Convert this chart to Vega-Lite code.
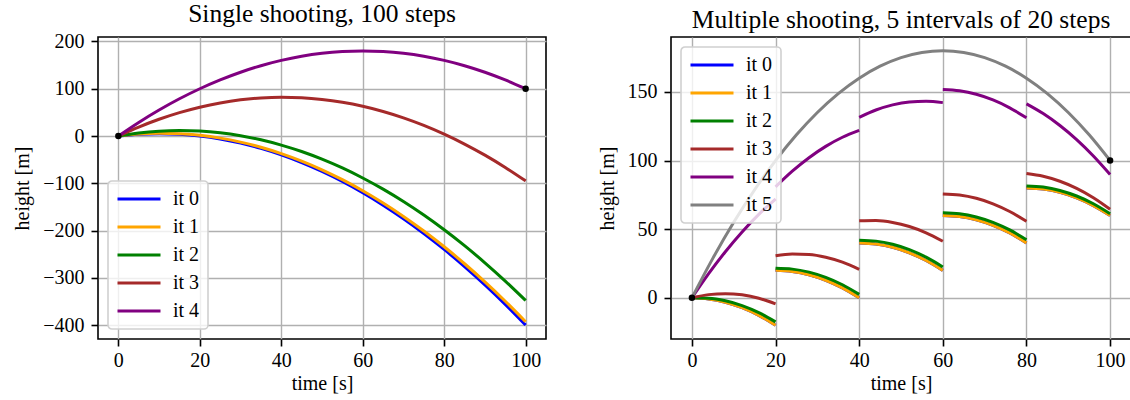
{
  "$schema": "https://vega.github.io/schema/vega-lite/v6.json",
  "padding": {"left": 11, "top": 1, "right": 0, "bottom": 0},
  "spacing": 49,
  "config": {
    "font": "Liberation Serif",
    "view": {"stroke": "black", "strokeWidth": 1.6},
    "axis": {"labelFontSize": 20, "titleFontSize": 20, "labelColor": "black", "titleColor": "black", "titleFontWeight": "normal", "tickSize": 7, "tickWidth": 1.6, "tickColor": "black", "domain": false, "gridColor": "#b0b0b0", "gridWidth": 1.4, "labelFont": "Liberation Serif", "titleFont": "Liberation Serif"},
    "legend": {"labelFontSize": 20, "labelFont": "Liberation Serif", "labelColor": "black", "symbolType": "stroke", "symbolSize": 1849, "symbolStrokeWidth": 3, "labelOffset": 11, "clipHeight": 20, "rowPadding": 8, "padding": 8, "fillColor": "rgba(255,255,255,0.8)", "strokeColor": "#d0d0d0", "strokeWidth": 1.6, "cornerRadius": 4, "offset": 10},
    "title": {"fontSize": 25.5, "fontWeight": "normal", "color": "black", "font": "Liberation Serif", "offset": 4}
  },
  "datasets": {
    "single": [
      {"t":0,"h":0,"it":"it 0"},{"t":5,"h":3.75,"it":"it 0"},{"t":10,"h":5,"it":"it 0"},{"t":15,"h":3.75,"it":"it 0"},{"t":20,"h":0,"it":"it 0"},{"t":25,"h":-6.25,"it":"it 0"},{"t":30,"h":-15,"it":"it 0"},{"t":35,"h":-26.25,"it":"it 0"},{"t":40,"h":-40,"it":"it 0"},{"t":45,"h":-56.25,"it":"it 0"},{"t":50,"h":-75,"it":"it 0"},{"t":55,"h":-96.25,"it":"it 0"},{"t":60,"h":-120,"it":"it 0"},{"t":65,"h":-146.25,"it":"it 0"},{"t":70,"h":-175,"it":"it 0"},{"t":75,"h":-206.25,"it":"it 0"},{"t":80,"h":-240,"it":"it 0"},{"t":85,"h":-276.25,"it":"it 0"},{"t":90,"h":-315,"it":"it 0"},{"t":95,"h":-356.25,"it":"it 0"},{"t":100,"h":-400,"it":"it 0"},
      {"t":0,"h":0,"it":"it 1"},{"t":5,"h":4.1,"it":"it 1"},{"t":10,"h":5.7,"it":"it 1"},{"t":15,"h":4.8,"it":"it 1"},{"t":20,"h":1.4,"it":"it 1"},{"t":25,"h":-4.5,"it":"it 1"},{"t":30,"h":-12.9,"it":"it 1"},{"t":35,"h":-23.8,"it":"it 1"},{"t":40,"h":-37.2,"it":"it 1"},{"t":45,"h":-53.1,"it":"it 1"},{"t":50,"h":-71.5,"it":"it 1"},{"t":55,"h":-92.4,"it":"it 1"},{"t":60,"h":-115.8,"it":"it 1"},{"t":65,"h":-141.7,"it":"it 1"},{"t":70,"h":-170.1,"it":"it 1"},{"t":75,"h":-201,"it":"it 1"},{"t":80,"h":-234.4,"it":"it 1"},{"t":85,"h":-270.3,"it":"it 1"},{"t":90,"h":-308.7,"it":"it 1"},{"t":95,"h":-349.6,"it":"it 1"},{"t":100,"h":-393,"it":"it 1"},
      {"t":0,"h":0,"it":"it 2"},{"t":5,"h":6.35,"it":"it 2"},{"t":10,"h":10.2,"it":"it 2"},{"t":15,"h":11.55,"it":"it 2"},{"t":20,"h":10.4,"it":"it 2"},{"t":25,"h":6.75,"it":"it 2"},{"t":30,"h":0.6,"it":"it 2"},{"t":35,"h":-8.05,"it":"it 2"},{"t":40,"h":-19.2,"it":"it 2"},{"t":45,"h":-32.85,"it":"it 2"},{"t":50,"h":-49,"it":"it 2"},{"t":55,"h":-67.65,"it":"it 2"},{"t":60,"h":-88.8,"it":"it 2"},{"t":65,"h":-112.45,"it":"it 2"},{"t":70,"h":-138.6,"it":"it 2"},{"t":75,"h":-167.25,"it":"it 2"},{"t":80,"h":-198.4,"it":"it 2"},{"t":85,"h":-232.05,"it":"it 2"},{"t":90,"h":-268.2,"it":"it 2"},{"t":95,"h":-306.85,"it":"it 2"},{"t":100,"h":-348,"it":"it 2"},
      {"t":0,"h":0,"it":"it 3"},{"t":5,"h":19,"it":"it 3"},{"t":10,"h":35.5,"it":"it 3"},{"t":15,"h":49.5,"it":"it 3"},{"t":20,"h":61,"it":"it 3"},{"t":25,"h":70,"it":"it 3"},{"t":30,"h":76.5,"it":"it 3"},{"t":35,"h":80.5,"it":"it 3"},{"t":40,"h":82,"it":"it 3"},{"t":45,"h":81,"it":"it 3"},{"t":50,"h":77.5,"it":"it 3"},{"t":55,"h":71.5,"it":"it 3"},{"t":60,"h":63,"it":"it 3"},{"t":65,"h":52,"it":"it 3"},{"t":70,"h":38.5,"it":"it 3"},{"t":75,"h":22.5,"it":"it 3"},{"t":80,"h":4,"it":"it 3"},{"t":85,"h":-17,"it":"it 3"},{"t":90,"h":-40.5,"it":"it 3"},{"t":95,"h":-66.5,"it":"it 3"},{"t":100,"h":-95,"it":"it 3"},
      {"t":0,"h":0,"it":"it 4"},{"t":5,"h":28.75,"it":"it 4"},{"t":10,"h":55,"it":"it 4"},{"t":15,"h":78.75,"it":"it 4"},{"t":20,"h":100,"it":"it 4"},{"t":25,"h":118.75,"it":"it 4"},{"t":30,"h":135,"it":"it 4"},{"t":35,"h":148.75,"it":"it 4"},{"t":40,"h":160,"it":"it 4"},{"t":45,"h":168.75,"it":"it 4"},{"t":50,"h":175,"it":"it 4"},{"t":55,"h":178.75,"it":"it 4"},{"t":60,"h":180,"it":"it 4"},{"t":65,"h":178.75,"it":"it 4"},{"t":70,"h":175,"it":"it 4"},{"t":75,"h":168.75,"it":"it 4"},{"t":80,"h":160,"it":"it 4"},{"t":85,"h":148.75,"it":"it 4"},{"t":90,"h":135,"it":"it 4"},{"t":95,"h":118.75,"it":"it 4"},{"t":100,"h":100,"it":"it 4"}
    ],
    "multi": [
      {"t":0,"h":0,"it":"it 0","s":1},{"t":4,"h":-0.8,"it":"it 0","s":1},{"t":8,"h":-3.2,"it":"it 0","s":1},{"t":12,"h":-7.2,"it":"it 0","s":1},{"t":16,"h":-12.8,"it":"it 0","s":1},{"t":20,"h":-20,"it":"it 0","s":1},
      {"t":20,"h":20,"it":"it 0","s":2},{"t":24,"h":19.2,"it":"it 0","s":2},{"t":28,"h":16.8,"it":"it 0","s":2},{"t":32,"h":12.8,"it":"it 0","s":2},{"t":36,"h":7.2,"it":"it 0","s":2},{"t":40,"h":0,"it":"it 0","s":2},
      {"t":40,"h":40,"it":"it 0","s":3},{"t":44,"h":39.2,"it":"it 0","s":3},{"t":48,"h":36.8,"it":"it 0","s":3},{"t":52,"h":32.8,"it":"it 0","s":3},{"t":56,"h":27.2,"it":"it 0","s":3},{"t":60,"h":20,"it":"it 0","s":3},
      {"t":60,"h":60,"it":"it 0","s":4},{"t":64,"h":59.2,"it":"it 0","s":4},{"t":68,"h":56.8,"it":"it 0","s":4},{"t":72,"h":52.8,"it":"it 0","s":4},{"t":76,"h":47.2,"it":"it 0","s":4},{"t":80,"h":40,"it":"it 0","s":4},
      {"t":80,"h":80,"it":"it 0","s":5},{"t":84,"h":79.2,"it":"it 0","s":5},{"t":88,"h":76.8,"it":"it 0","s":5},{"t":92,"h":72.8,"it":"it 0","s":5},{"t":96,"h":67.2,"it":"it 0","s":5},{"t":100,"h":60,"it":"it 0","s":5},
      {"t":0,"h":0,"it":"it 1","s":1},{"t":4,"h":-0.8,"it":"it 1","s":1},{"t":8,"h":-3.2,"it":"it 1","s":1},{"t":12,"h":-7.2,"it":"it 1","s":1},{"t":16,"h":-12.8,"it":"it 1","s":1},{"t":20,"h":-20,"it":"it 1","s":1},
      {"t":20,"h":20,"it":"it 1","s":2},{"t":24,"h":19.2,"it":"it 1","s":2},{"t":28,"h":16.8,"it":"it 1","s":2},{"t":32,"h":12.8,"it":"it 1","s":2},{"t":36,"h":7.2,"it":"it 1","s":2},{"t":40,"h":0,"it":"it 1","s":2},
      {"t":40,"h":40,"it":"it 1","s":3},{"t":44,"h":39.2,"it":"it 1","s":3},{"t":48,"h":36.8,"it":"it 1","s":3},{"t":52,"h":32.8,"it":"it 1","s":3},{"t":56,"h":27.2,"it":"it 1","s":3},{"t":60,"h":20,"it":"it 1","s":3},
      {"t":60,"h":60,"it":"it 1","s":4},{"t":64,"h":59.2,"it":"it 1","s":4},{"t":68,"h":56.8,"it":"it 1","s":4},{"t":72,"h":52.8,"it":"it 1","s":4},{"t":76,"h":47.2,"it":"it 1","s":4},{"t":80,"h":40,"it":"it 1","s":4},
      {"t":80,"h":80,"it":"it 1","s":5},{"t":84,"h":79.2,"it":"it 1","s":5},{"t":88,"h":76.8,"it":"it 1","s":5},{"t":92,"h":72.8,"it":"it 1","s":5},{"t":96,"h":67.2,"it":"it 1","s":5},{"t":100,"h":60,"it":"it 1","s":5},
      {"t":0,"h":0,"it":"it 2","s":1},{"t":4,"h":-0.3,"it":"it 2","s":1},{"t":8,"h":-2.2,"it":"it 2","s":1},{"t":12,"h":-5.7,"it":"it 2","s":1},{"t":16,"h":-10.8,"it":"it 2","s":1},{"t":20,"h":-17.5,"it":"it 2","s":1},
      {"t":20,"h":21.5,"it":"it 2","s":2},{"t":24,"h":20.9,"it":"it 2","s":2},{"t":28,"h":18.7,"it":"it 2","s":2},{"t":32,"h":14.9,"it":"it 2","s":2},{"t":36,"h":9.5,"it":"it 2","s":2},{"t":40,"h":2.5,"it":"it 2","s":2},
      {"t":40,"h":42,"it":"it 2","s":3},{"t":44,"h":41.3,"it":"it 2","s":3},{"t":48,"h":39,"it":"it 2","s":3},{"t":52,"h":35.1,"it":"it 2","s":3},{"t":56,"h":29.6,"it":"it 2","s":3},{"t":60,"h":22.5,"it":"it 2","s":3},
      {"t":60,"h":62,"it":"it 2","s":4},{"t":64,"h":61.26,"it":"it 2","s":4},{"t":68,"h":58.92,"it":"it 2","s":4},{"t":72,"h":54.98,"it":"it 2","s":4},{"t":76,"h":49.44,"it":"it 2","s":4},{"t":80,"h":42.3,"it":"it 2","s":4},
      {"t":80,"h":81.5,"it":"it 2","s":5},{"t":84,"h":80.66,"it":"it 2","s":5},{"t":88,"h":78.22,"it":"it 2","s":5},{"t":92,"h":74.18,"it":"it 2","s":5},{"t":96,"h":68.54,"it":"it 2","s":5},{"t":100,"h":61.3,"it":"it 2","s":5},
      {"t":0,"h":0,"it":"it 3","s":1},{"t":4,"h":2.32,"it":"it 3","s":1},{"t":8,"h":3.04,"it":"it 3","s":1},{"t":12,"h":2.16,"it":"it 3","s":1},{"t":16,"h":-0.32,"it":"it 3","s":1},{"t":20,"h":-4.4,"it":"it 3","s":1},
      {"t":20,"h":30.6,"it":"it 3","s":2},{"t":24,"h":31.84,"it":"it 3","s":2},{"t":28,"h":31.48,"it":"it 3","s":2},{"t":32,"h":29.52,"it":"it 3","s":2},{"t":36,"h":25.96,"it":"it 3","s":2},{"t":40,"h":20.8,"it":"it 3","s":2},
      {"t":40,"h":56.1,"it":"it 3","s":3},{"t":44,"h":56.32,"it":"it 3","s":3},{"t":48,"h":54.94,"it":"it 3","s":3},{"t":52,"h":51.96,"it":"it 3","s":3},{"t":56,"h":47.38,"it":"it 3","s":3},{"t":60,"h":41.2,"it":"it 3","s":3},
      {"t":60,"h":75.7,"it":"it 3","s":4},{"t":64,"h":74.9,"it":"it 3","s":4},{"t":68,"h":72.5,"it":"it 3","s":4},{"t":72,"h":68.5,"it":"it 3","s":4},{"t":76,"h":62.9,"it":"it 3","s":4},{"t":80,"h":55.7,"it":"it 3","s":4},
      {"t":80,"h":90.5,"it":"it 3","s":5},{"t":84,"h":88.5,"it":"it 3","s":5},{"t":88,"h":84.9,"it":"it 3","s":5},{"t":92,"h":79.7,"it":"it 3","s":5},{"t":96,"h":72.9,"it":"it 3","s":5},{"t":100,"h":64.5,"it":"it 3","s":5},
      {"t":0,"h":0,"it":"it 4","s":1},{"t":4,"h":17.6,"it":"it 4","s":1},{"t":8,"h":33.6,"it":"it 4","s":1},{"t":12,"h":48,"it":"it 4","s":1},{"t":16,"h":60.8,"it":"it 4","s":1},{"t":20,"h":72,"it":"it 4","s":1},
      {"t":20,"h":80.8,"it":"it 4","s":2},{"t":24,"h":92.24,"it":"it 4","s":2},{"t":28,"h":102.08,"it":"it 4","s":2},{"t":32,"h":110.32,"it":"it 4","s":2},{"t":36,"h":116.96,"it":"it 4","s":2},{"t":40,"h":122,"it":"it 4","s":2},
      {"t":40,"h":131.5,"it":"it 4","s":3},{"t":44,"h":136.84,"it":"it 4","s":3},{"t":48,"h":140.58,"it":"it 4","s":3},{"t":52,"h":142.72,"it":"it 4","s":3},{"t":56,"h":143.26,"it":"it 4","s":3},{"t":60,"h":142.2,"it":"it 4","s":3},
      {"t":60,"h":151.7,"it":"it 4","s":4},{"t":64,"h":150.78,"it":"it 4","s":4},{"t":68,"h":148.26,"it":"it 4","s":4},{"t":72,"h":144.14,"it":"it 4","s":4},{"t":76,"h":138.42,"it":"it 4","s":4},{"t":80,"h":131.1,"it":"it 4","s":4},
      {"t":80,"h":141.3,"it":"it 4","s":5},{"t":84,"h":134.2,"it":"it 4","s":5},{"t":88,"h":125.5,"it":"it 4","s":5},{"t":92,"h":115.2,"it":"it 4","s":5},{"t":96,"h":103.3,"it":"it 4","s":5},{"t":100,"h":89.8,"it":"it 4","s":5},
      {"t":0,"h":0,"it":"it 5","s":0},{"t":5,"h":28.75,"it":"it 5","s":0},{"t":10,"h":55,"it":"it 5","s":0},{"t":15,"h":78.75,"it":"it 5","s":0},{"t":20,"h":100,"it":"it 5","s":0},{"t":25,"h":118.75,"it":"it 5","s":0},{"t":30,"h":135,"it":"it 5","s":0},{"t":35,"h":148.75,"it":"it 5","s":0},{"t":40,"h":160,"it":"it 5","s":0},{"t":45,"h":168.75,"it":"it 5","s":0},{"t":50,"h":175,"it":"it 5","s":0},{"t":55,"h":178.75,"it":"it 5","s":0},{"t":60,"h":180,"it":"it 5","s":0},{"t":65,"h":178.75,"it":"it 5","s":0},{"t":70,"h":175,"it":"it 5","s":0},{"t":75,"h":168.75,"it":"it 5","s":0},{"t":80,"h":160,"it":"it 5","s":0},{"t":85,"h":148.75,"it":"it 5","s":0},{"t":90,"h":135,"it":"it 5","s":0},{"t":95,"h":118.75,"it":"it 5","s":0},{"t":100,"h":100,"it":"it 5","s":0}
    ],
    "pts": [{"t":0,"h":0},{"t":100,"h":100}]
  },
  "hconcat": [
    {
      "title": "Single shooting, 100 steps",
      "width": 448,
      "height": 302,
      "layer": [
        {
          "data": {"name": "single"},
          "mark": {"type": "line", "strokeWidth": 3, "interpolate": "monotone", "clip": true},
          "encoding": {
            "x": {"field": "t", "type": "quantitative", "scale": {"domain": [-5, 105], "nice": false, "zero": false}, "axis": {"values": [0, 20, 40, 60, 80, 100], "title": "time [s]", "labelPadding": 4, "titlePadding": 3}},
            "y": {"field": "h", "type": "quantitative", "scale": {"domain": [-429.5, 209.5], "nice": false, "zero": false}, "axis": {"values": [-400, -300, -200, -100, 0, 100, 200], "title": "height [m]", "labelPadding": 7, "titlePadding": 10}},
            "color": {"field": "it", "type": "nominal", "scale": {"domain": ["it 0", "it 1", "it 2", "it 3", "it 4"], "range": ["#0000ff", "#ffa500", "#008000", "#a52a2a", "#800080"]}, "legend": {"orient": "bottom-left", "title": null}}
          }
        },
        {
          "data": {"name": "pts"},
          "mark": {"type": "circle", "size": 42, "color": "black", "opacity": 1},
          "encoding": {"x": {"field": "t", "type": "quantitative"}, "y": {"field": "h", "type": "quantitative"}}
        }
      ]
    },
    {
      "title": "Multiple shooting, 5 intervals of 20 steps",
      "width": 460,
      "height": 302,
      "layer": [
        {
          "data": {"name": "multi"},
          "mark": {"type": "line", "strokeWidth": 3, "interpolate": "monotone", "clip": true},
          "encoding": {
            "x": {"field": "t", "type": "quantitative", "scale": {"domain": [-5, 105], "nice": false, "zero": false}, "axis": {"values": [0, 20, 40, 60, 80, 100], "title": "time [s]", "labelPadding": 4, "titlePadding": 3}},
            "y": {"field": "h", "type": "quantitative", "scale": {"domain": [-30, 190], "nice": false, "zero": false}, "axis": {"values": [0, 50, 100, 150], "title": "height [m]", "labelPadding": 7, "titlePadding": 10}},
            "color": {"field": "it", "type": "nominal", "scale": {"domain": ["it 0", "it 1", "it 2", "it 3", "it 4", "it 5"], "range": ["#0000ff", "#ffa500", "#008000", "#a52a2a", "#800080", "#808080"]}, "legend": {"orient": "top-left", "title": null}},
            "detail": {"field": "s", "type": "nominal"}
          }
        },
        {
          "data": {"name": "pts"},
          "mark": {"type": "circle", "size": 42, "color": "black", "opacity": 1},
          "encoding": {"x": {"field": "t", "type": "quantitative"}, "y": {"field": "h", "type": "quantitative"}}
        }
      ]
    }
  ],
  "resolve": {"scale": {"color": "independent"}}
}
